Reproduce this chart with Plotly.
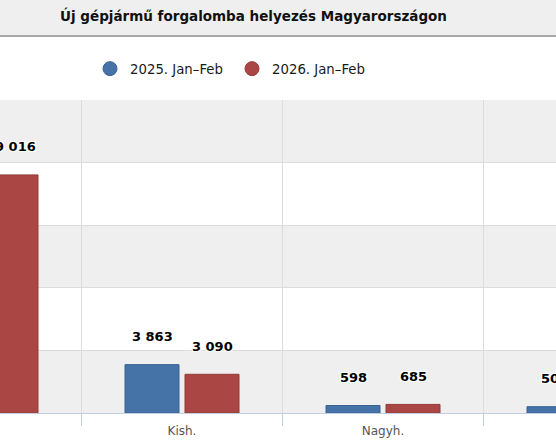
import plotly.graph_objects as go

# ---- data ----
categories = ["Szgk.", "Kish.", "Nagyh.", "Motor"]
series_names = ["2025. Jan–Feb", "2026. Jan–Feb"]
values_2025 = [18650, 3863, 598, 505]
values_2026 = [19016, 3090, 685, 560]
y_ticks = [0, 5000, 10000, 15000, 20000, 25000]

colors = ["#4572A7", "#AA4643"]
edge_colors = ["#3a6294", "#953a38"]

W, H = 556, 444
TOP, BOTTOM = 100, 31
plot_h = H - TOP - BOTTOM

bargap = 0.403
bargroupgap = 0.1
slot = (1 - bargap) / 2

def fmt(v):
    return f"{v:,}".replace(",", " ")

fig = go.Figure()
x_idx = list(range(len(categories)))
for k, (name, vals) in enumerate(zip(series_names, [values_2025, values_2026])):
    fig.add_trace(go.Bar(
        x=x_idx, y=vals, name=name, showlegend=False,
        marker=dict(color=colors[k], line=dict(color=edge_colors[k], width=1)),
        hoverinfo="skip",
    ))
    # legend stand-in with circle symbol
    fig.add_trace(go.Scatter(
        x=[None], y=[None], name=name, mode="markers",
        marker=dict(symbol="circle", size=14, color=colors[k],
                    line=dict(color=edge_colors[k], width=1)),
    ))

annotations = []
for k, vals in enumerate([values_2025, values_2026]):
    off = (k - 0.5) * slot
    for i, v in enumerate(vals):
        annotations.append(dict(
            x=i + off, y=v, xref="x", yref="y", text=fmt(v), showarrow=False,
            yanchor="middle", yshift=28,
            font=dict(family="DejaVu Sans", size=13, color="#000000", weight="bold",
                      shadow="1px 1px 0 #fff, -1px -1px 0 #fff, 1px -1px 0 #fff, -1px 1px 0 #fff, 0 0 3px #fff"),
        ))

shapes = []
# alternating bands
for j in range(0, len(y_ticks) - 1, 2):
    shapes.append(dict(type="rect", xref="paper", yref="y", x0=0, x1=1,
                       y0=y_ticks[j], y1=y_ticks[j + 1], fillcolor="#efefef",
                       line=dict(width=0), layer="below"))
# title bar
title_bottom = (H - BOTTOM - 36) / plot_h
title_top = (H - BOTTOM) / plot_h
shapes.append(dict(type="rect", xref="paper", yref="paper", x0=0, x1=1,
                   y0=title_bottom, y1=title_top, fillcolor="#efefef",
                   line=dict(width=0), layer="below"))
shapes.append(dict(type="line", xref="paper", yref="paper", x0=0, x1=1,
                   y0=title_bottom, y1=title_bottom, line=dict(color="#a8a8a8", width=2)))

fig.update_layout(
    width=W, height=H,
    margin=dict(l=0, r=0, t=TOP, b=BOTTOM, pad=0),
    paper_bgcolor="#ffffff", plot_bgcolor="#ffffff",
    barmode="group", bargap=bargap, bargroupgap=bargroupgap,
    title=dict(text="Új gépjármű forgalomba helyezés Magyarországon",
               x=253.5 / W, xanchor="center", y=1 - 16 / H, yanchor="middle",
               font=dict(family="DejaVu Sans", size=13.5, color="#111111", weight="bold")),
    legend=dict(orientation="h", x=90 / W, xanchor="left",
                y=(H - BOTTOM - 69) / plot_h, yanchor="middle",
                font=dict(family="DejaVu Sans", size=13.3, color="#1a1a1a"),
                itemwidth=30, entrywidth=97, entrywidthmode="pixels",
                bgcolor="rgba(0,0,0,0)"),
    shapes=shapes,
    annotations=annotations,
    xaxis=dict(
        type="linear", range=[19 / 201, 575 / 201],
        tickmode="array", tickvals=x_idx, ticktext=categories,
        ticks="", showgrid=False, zeroline=False,
        showline=True, linecolor="#C0D0E0", linewidth=1,
        ticklabelstandoff=7,
        tickfont=dict(family="DejaVu Sans", size=12, color="#555555"),
        minor=dict(tickmode="linear", tick0=0.5, dtick=1, ticks="outside",
                   ticklen=12, tickcolor="#C0D0E0", tickwidth=1,
                   showgrid=True, gridcolor="#dcdcdc", gridwidth=1),
        fixedrange=True,
    ),
    yaxis=dict(
        range=[0, 25000], tickmode="array", tickvals=y_ticks,
        showticklabels=False, ticks="", showgrid=True, gridcolor="#dcdcdc",
        gridwidth=1, zeroline=False, fixedrange=True,
    ),
)

fig.write_html("out.html", config={"displayModeBar": False, "staticPlot": True},
               post_script="document.body.style.margin='0';document.body.style.padding='0';")
